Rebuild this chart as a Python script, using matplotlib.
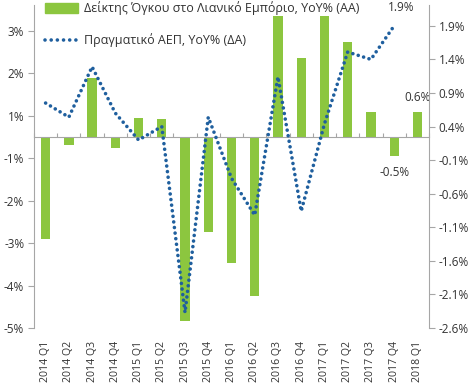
import numpy as np
import matplotlib
matplotlib.use('Agg')
import matplotlib.pyplot as plt
from matplotlib.patches import Patch
from matplotlib.lines import Line2D

plt.rcParams['font.family'] = ['Open Sans', 'DejaVu Sans']

# datos
quarters = ['2014 Q1', '2014 Q2', '2014 Q3', '2014 Q4',
            '2015 Q1', '2015 Q2', '2015 Q3', '2015 Q4',
            '2016 Q1', '2016 Q2', '2016 Q3', '2016 Q4',
            '2017 Q1', '2017 Q2', '2017 Q3', '2017 Q4', '2018 Q1']
retail = [-2.4, -0.2, 1.4, -0.26, 0.45, 0.42, -4.33, -2.24, -2.97, -3.74,
          2.85, 1.87, 2.85, 2.25, 0.59, -0.45, 0.6]
gdp = [0.75, 0.54, 1.29, 0.6, 0.2, 0.4, -2.37, 0.54, -0.37, -0.92,
       1.14, -0.86, 0.44, 1.51, 1.40, 1.90, np.nan]

left_ticks = [-4.5, -3.5, -2.5, -1.5, -0.5, 0.5, 1.5, 2.5]
left_ticklabels = ['-5%', '-4%', '-3%', '-2%', '-1%', '1%', '2%', '3%']
right_ticks = [-2.6, -2.1, -1.6, -1.1, -0.6, -0.1, 0.4, 0.9, 1.4, 1.9]

retail_label = 'Δείκτης Όγκου στο Λιανικό Εμπόριο, YoY% (AA)'
gdp_label = 'Πραγματικό ΑΕΠ, YoY% (ΔΑ)'

green = '#8cc63f'
blue = '#1f5f9e'
gray = '#a6a6a6'
txt = '#333333'
fs = 8.5

fig = plt.figure(figsize=(4.73, 3.88), dpi=100)
ax = fig.add_axes([34 / 473, 1 - 328 / 388, (429 - 34) / 473, 323 / 388])
x = np.arange(len(quarters))

ax.bar(x, retail, width=0.4, color=green, zorder=2)
ax.set_xlim(-0.5, len(quarters) - 0.5)
ax.set_ylim(-4.5, 3.11)
ax.set_yticks(left_ticks, left_ticklabels)

for s in ['top', 'right']:
    ax.spines[s].set_visible(False)
ax.spines['left'].set_color(gray)
ax.spines['bottom'].set_color(gray)
ax.spines['bottom'].set_position(('data', 0))
ax.tick_params(axis='y', colors=gray, labelcolor=txt, labelsize=fs,
               length=4, direction='out', pad=3)
ax.set_xticks(np.arange(len(quarters) + 1) - 0.5)
ax.tick_params(axis='x', colors=gray, length=3, direction='in',
               labelbottom=False)

sec = ax.secondary_xaxis(0)
sec.set_xticks(x, quarters, rotation=90)
sec.tick_params(length=0, pad=9, labelsize=7.6, labelcolor=txt)
sec.spines['bottom'].set_visible(False)

ax.annotate('0.6%', (x[16], retail[16]), xytext=(0, 10),
            textcoords='offset points', ha='center', va='center',
            fontsize=fs, color=txt)
ax.annotate('-0.5%', (x[15], retail[15]), xytext=(0, -12),
            textcoords='offset points', ha='center', va='center',
            fontsize=fs, color=txt)

ax2 = ax.twinx()
ax2.plot(x, gdp, color=blue, lw=2.6, linestyle=(0, (0.01, 1.55)),
         dash_capstyle='round')
ax2.set_ylim(-2.6, 2.21)
ax2.set_yticks(right_ticks, ['%.1f%%' % v for v in right_ticks])
for s in ['top', 'left', 'bottom']:
    ax2.spines[s].set_visible(False)
ax2.spines['right'].set_color(gray)
ax2.tick_params(axis='y', colors=gray, labelcolor=txt, labelsize=fs,
                length=4, direction='out', pad=3)
ax2.annotate('1.9%', (x[15], gdp[15]), xytext=(5, 13),
             textcoords='offset points', ha='center', va='center',
             fontsize=fs, color=txt)

handles = [Patch(color=green),
           Line2D([], [], color=blue, lw=2.6, linestyle=(0, (0.01, 1.7)),
                  dash_capstyle='round')]
ax2.legend(handles, [retail_label, gdp_label], loc='upper left',
           bbox_to_anchor=(44 / 473, 1.0), bbox_transform=fig.transFigure,
           frameon=False, fontsize=9, handlelength=2.6, handleheight=0.8,
           handletextpad=0.5, labelspacing=1.45, borderaxespad=0,
           borderpad=0.1, labelcolor=txt)

fig.savefig('out.png', dpi=100)
